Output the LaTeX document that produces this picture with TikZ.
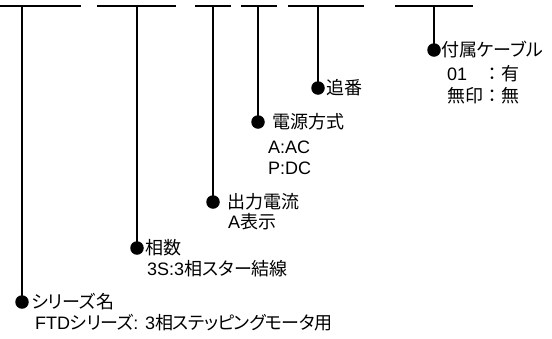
\documentclass[tikz,border=0pt]{standalone}
\usepackage{fontspec}
\setmainfont{Liberation Sans}
\newfontfamily\jp[RawFeature=+palt]{Noto Sans CJK JP}
\newfontfamily\jpt[RawFeature=+palt,LetterSpace=-3]{Noto Sans CJK JP}
\newfontfamily\jpf{Noto Sans CJK JP}
\begin{document}
\begin{tikzpicture}[x=1pt,y=-1pt,
  bar/.style={line width=1.1pt},
  dot/.style={circle,fill=black,inner sep=0pt,minimum size=13.5pt},
  lbl/.style={anchor=base west,inner sep=0pt,font=\fontsize{18}{21}\selectfont}]
\useasboundingbox (0,0) rectangle (552,338);
% top bars
\coordinate (b1l) at (0,6);   \coordinate (b1r) at (81,6);
\coordinate (b2l) at (97,6);  \coordinate (b2r) at (176,6);
\coordinate (b3l) at (195,6); \coordinate (b3r) at (231,6);
\coordinate (b4l) at (241,6); \coordinate (b4r) at (277,6);
\coordinate (b5l) at (288,6); \coordinate (b5r) at (364,6);
\coordinate (b6l) at (395,6); \coordinate (b6r) at (473,6);
\foreach \i in {1,...,6} {\draw[bar] (b\i l) -- (b\i r);}
% stems
\coordinate (t1) at (22,6);  \node[dot] (d1) at (22,302) {};
\coordinate (t2) at (137,6); \node[dot] (d2) at (137,248) {};
\coordinate (t3) at (213,6); \node[dot] (d3) at (213,202) {};
\coordinate (t4) at (258,6); \node[dot] (d4) at (258,122) {};
\coordinate (t5) at (318,6); \node[dot] (d5) at (318,88) {};
\coordinate (t6) at (434,6); \node[dot] (d6) at (434,50) {};
\foreach \i in {1,...,6} {\draw[bar] (t\i) -- (d\i.center);}
% labels
\node[lbl] (l1a) at (31,308.5) {\jp シリーズ名};
\node[lbl] (l1b) at (35,329.5) {FTD{\jpt シリーズ}: 3{\jpt 相ステッピングモータ用}};
\node[lbl] (l2a) at (145,254.5) {\jp 相数};
\node[lbl] (l2b) at (147,275.5) {3S:3{\jp 相スター結線}};
\node[lbl] (l3a) at (227,208.5) {\jp 出力電流};
\node[lbl] (l3b) at (228,228.5) {A{\jp 表示}};
\node[lbl] (l4a) at (272,128.5) {\jp 電源方式};
\node[lbl] (l4b) at (268,153.5) {A:AC};
\node[lbl] (l4c) at (268,174.5) {P:DC};
\node[lbl] (l5a) at (326,94.5) {\jp 追番};
\node[lbl] (l6a) at (441,56.5) {\jp 付属ケーブル};
\node[lbl] (l6b) at (447,80.5) {\makebox[36pt][l]{01}{\jpf ：有}};
\node[lbl] (l6c) at (447,102.5) {\jpf 無印：無};
\end{tikzpicture}
\end{document}
